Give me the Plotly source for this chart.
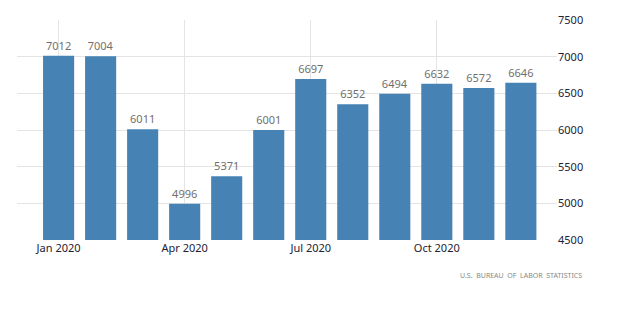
import plotly.graph_objects as go

months = ["Jan", "Feb", "Mar", "Apr", "May", "Jun", "Jul", "Aug", "Sep", "Oct", "Nov", "Dec"]
values = [7012, 7004, 6011, 4996, 5371, 6001, 6697, 6352, 6494, 6632, 6572, 6646]
tick_idx = [0, 3, 6, 9]
tick_text = ["Jan 2020", "Apr 2020", "Jul 2020", "Oct 2020"]
y_ticks = [4500, 5000, 5500, 6000, 6500, 7000, 7500]

x = list(range(len(months)))
font_family = "Noto Sans"

fig = go.Figure(go.Bar(
    x=x, y=values, width=0.74,
    marker=dict(color="#4682b4", line=dict(width=0)),
    text=[str(v) for v in values], textposition="outside",
    textfont=dict(family=font_family, size=11, color="#707070"),
    cliponaxis=False,
))

fig.update_layout(
    width=620, height=320,
    margin=dict(l=17, r=63, t=16, b=80),
    paper_bgcolor="white", plot_bgcolor="white",
    showlegend=False,
    xaxis=dict(
        range=[-0.99, 11.86], tickvals=tick_idx, ticktext=tick_text,
        showgrid=True, gridcolor="#e4e4e4", gridwidth=1,
        zeroline=False, showline=False, ticks="",
        tickfont=dict(family=font_family, size=11, color="#222233"),
    ),
    yaxis=dict(
        side="right", range=[4500, 7500], tickvals=y_ticks,
        showgrid=True, gridcolor="#e4e4e4", gridwidth=1,
        zeroline=False, showline=False, ticks="",
        tickfont=dict(family=font_family, size=11, color="#222233"),
    ),
    annotations=[dict(
        text="U.S.  BUREAU  OF  LABOR  STATISTICS", xref="paper", yref="paper",
        x=1.05, y=-0.16, xanchor="right", yanchor="middle", showarrow=False,
        font=dict(family=font_family, size=7, color="#888888"),
    )],
)

fig.write_html("out.html")
